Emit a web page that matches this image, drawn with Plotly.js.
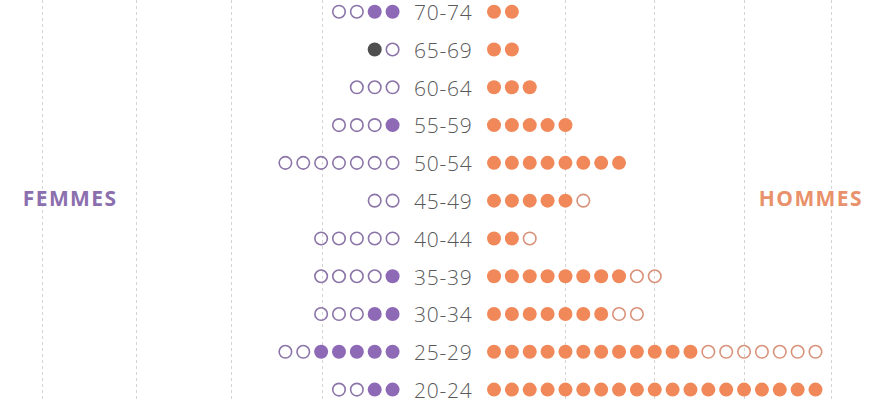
<!DOCTYPE html>
<html>
<head>
<meta charset="utf-8">
<script src="https://cdn.plot.ly/plotly-3.0.1.min.js"></script>
<style>
html,body{margin:0;padding:0;background:#fff;}
#chart{width:883px;height:400px;}
#chart .textpoint text{letter-spacing:0.8px;}
#chart .annotation-text{letter-spacing:1.4px;}
</style>
</head>
<body>
<div id="chart"></div>
<script>
// Age groups, bottom to top
const ages = ['20-24','25-29','30-34','35-39','40-44','45-49','50-54','55-59','60-64','65-69','70-74'];
// Women (FEMMES): filled dots nearest the centre, then hollow, then grey
const womenFilled = [2,5,2,1,0,0,0,1,0,0,2];
const womenHollow = [2,2,3,4,5,2,7,3,3,1,2];
const womenGrey   = [0,0,0,0,0,0,0,0,0,1,0];
// Men (HOMMES): filled dots nearest the centre, then hollow
const menFilled = [19,12,7,8,2,5,8,5,3,2,2];
const menHollow = [0,7,2,2,1,1,0,0,0,0,0];

const GAP = 2.84; // centre-to-first-dot offset, in dot units

function dots(startArr, countArr, side) {
  const xs = [], ys = [];
  ages.forEach((a, r) => {
    const start = startArr[r];
    for (let i = 0; i < countArr[r]; i++) {
      xs.push(side * (GAP + start + i));
      ys.push(a);
    }
  });
  return {x: xs, y: ys};
}
const zeros = ages.map(() => 0);
const womenGreyStart = ages.map((a, r) => womenFilled[r] + womenHollow[r]);

const wF = dots(zeros, womenFilled, -1);
const wH = dots(womenFilled, womenHollow, -1);
const wG = dots(womenGreyStart, womenGrey, -1);
const mF = dots(zeros, menFilled, 1);
const mH = dots(menFilled, menHollow, 1);

const traces = [
  {type:'scatter', mode:'markers', x:wF.x, y:wF.y, hoverinfo:'skip',
   marker:{symbol:'circle', size:14, color:'#8e69b6', line:{width:0}}},
  {type:'scatter', mode:'markers', x:wH.x, y:wH.y, hoverinfo:'skip',
   marker:{symbol:'circle-open', size:12.5, color:'#8b74a8', line:{width:1.6}}},
  {type:'scatter', mode:'markers', x:wG.x, y:wG.y, hoverinfo:'skip',
   marker:{symbol:'circle', size:14, color:'#4f4f4f', line:{width:0}}},
  {type:'scatter', mode:'markers', x:mF.x, y:mF.y, hoverinfo:'skip',
   marker:{symbol:'circle', size:14, color:'#f08859', line:{width:0}}},
  {type:'scatter', mode:'markers', x:mH.x, y:mH.y, hoverinfo:'skip',
   marker:{symbol:'circle-open', size:12.5, color:'#d9927a', line:{width:1.6}}},
  {type:'scatter', mode:'text', x:ages.map(() => 0), y:ages, text:ages, hoverinfo:'skip',
   yaxis:'y2', textposition:'middle center', cliponaxis:false,
   textfont:{family:'Open Sans, sans-serif', size:21, color:'#595959', weight:300}}
];

const layout = {
  width:883, height:400,
  margin:{l:0, r:0, t:0, b:0},
  paper_bgcolor:'#ffffff', plot_bgcolor:'#ffffff',
  showlegend:false,
  xaxis:{range:[-24.82, 24.62], showgrid:true, zeroline:false, showticklabels:false,
         ticks:'', tickmode:'array',
         tickvals:[-22.42,-17.15,-11.87,-6.78,6.87,11.85,16.88,21.75],
         gridcolor:'#d3d3d3', griddash:'dot', gridwidth:1, fixedrange:true},
  yaxis:{type:'category', categoryorder:'array', categoryarray:ages,
         range:[-0.275, 10.31], showgrid:false, zeroline:false,
         showticklabels:false, ticks:'', fixedrange:true},
  yaxis2:{type:'category', categoryorder:'array', categoryarray:ages, overlaying:'y',
         range:[-0.195, 10.39], showgrid:false, zeroline:false,
         showticklabels:false, ticks:'', fixedrange:true},
  annotations:[
    {xref:'paper', yref:'paper', x:70/883, y:1-198/400, text:'<b>FEMMES</b>',
     showarrow:false, xanchor:'center', yanchor:'middle',
     font:{family:'Open Sans, sans-serif', size:21, color:'#8c6fae'}},
    {xref:'paper', yref:'paper', x:811/883, y:1-198/400, text:'<b>HOMMES</b>',
     showarrow:false, xanchor:'center', yanchor:'middle',
     font:{family:'Open Sans, sans-serif', size:21, color:'#e9916b'}}
  ]
};

Plotly.newPlot('chart', traces, layout, {displayModeBar:false, staticPlot:true});
</script>
</body>
</html>
